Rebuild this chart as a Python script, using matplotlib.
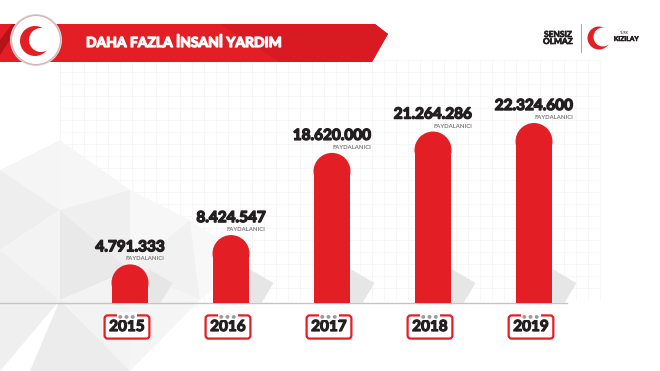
import matplotlib
matplotlib.use("Agg")
import matplotlib.pyplot as plt
import matplotlib.patheffects as pe
import numpy as np
from matplotlib.patches import Polygon, Circle, Ellipse

years = ["2015", "2016", "2017", "2018", "2019"]
values = [4791333, 8424547, 18620000, 21264286, 22324600]
labels = ["4.791.333", "8.424.547", "18.620.000", "21.264.286", "22.324.600"]
unit_label = "FAYDALANICI"
title = "DAHA FAZLA İNSANİ YARDIM"

RED = "#e31e24"
DARK = "#231f20"
FONT = ["Lato", "DejaVu Sans"]

W, H = 660, 371
fig = plt.figure(figsize=(6.6, 3.71), dpi=100)


def heavy(c, w=0.7):
    return [pe.withStroke(linewidth=w, foreground=c)]


# background axes in pixel coords (y down)
bg = fig.add_axes([0, 0, 1, 1])
bg.set_xlim(0, W)
bg.set_ylim(H, 0)
bg.axis("off")

# faint grid
for gx in np.arange(60, 610, 12):
    bg.plot([gx, gx], [60, 300], color="#f4f4f4", lw=0.5, zorder=0)
for gy in np.arange(60, 300, 12):
    bg.plot([60, 600], [gy, gy], color="#f4f4f4", lw=0.5, zorder=0)

# light geometric triangles lower left
tris = [
    ([(0, 170), (60, 140), (60, 210)], "#f5f5f5"),
    ([(0, 170), (60, 210), (0, 250)], "#eeeeee"),
    ([(60, 140), (130, 190), (60, 210)], "#f6f6f6"),
    ([(60, 210), (130, 190), (130, 270)], "#efefef"),
    ([(0, 250), (60, 210), (60, 300)], "#f3f3f3"),
    ([(60, 210), (130, 270), (60, 300)], "#e9e9e9"),
    ([(0, 250), (60, 300), (0, 371)], "#efefef"),
    ([(60, 300), (130, 270), (130, 371)], "#f3f3f3"),
    ([(60, 300), (130, 371), (30, 371)], "#ececec"),
    ([(130, 190), (190, 220), (130, 270)], "#f7f7f7"),
    ([(130, 270), (190, 220), (200, 300)], "#f1f1f1"),
    ([(130, 270), (200, 300), (130, 371)], "#f5f5f5"),
    ([(190, 220), (250, 260), (200, 300)], "#f8f8f8"),
]
for pts, c in tris:
    bg.add_patch(Polygon(pts, closed=True, fc=c, ec="none", zorder=0.5))

# baseline
bg.plot([0, 567], [303, 303], color="#c4c4c4", lw=1, zorder=1)

# title banner
bg.add_patch(Polygon([(0, 24), (375, 24), (388, 34), (372, 62), (0, 62)],
                     closed=True, fc=RED, ec="none", zorder=2))
bg.add_patch(Polygon([(220, 24), (375, 24), (388, 34), (372, 62), (280, 62)],
                     closed=True, fc="#d81b22", ec="none", zorder=2.1))
bg.add_patch(Polygon([(0, 40), (12, 24), (20, 24), (0, 55)],
                     closed=True, fc="#b5121a", ec="none", zorder=2.1))
bg.text(86, 43, title, color="white", fontsize=10, fontweight="bold",
        family=FONT, va="center", ha="left", zorder=3,
        path_effects=heavy("white", 0.9))

# round logo
bg.add_patch(Circle((36, 40), 26, fc="#d8d8d8", ec="none", zorder=3))
bg.add_patch(Circle((36, 40), 24.5, fc="white", ec="#d9b0b0", lw=0.8, zorder=3.1))
bg.add_patch(Circle((35, 41), 15, fc=RED, ec="none", zorder=3.2))
bg.add_patch(Circle((41, 40), 12, fc="white", ec="none", zorder=3.3))

# top right logo
bg.text(558, 38, "SENSIZ\nOLMAZ", fontsize=6, fontweight="bold", color=DARK,
        family=FONT, ha="center", va="center", linespacing=1.0, zorder=3,
        path_effects=heavy(DARK, 0.5))
bg.plot([581, 581], [24, 52], color="#999999", lw=0.6, zorder=3)
bg.add_patch(Circle((599, 38), 11.5, fc=RED, ec="none", zorder=3))
bg.add_patch(Circle((603, 37), 9.5, fc="white", ec="none", zorder=3.1))
bg.text(624, 33.5, "TÜRK", fontsize=2.5, color=DARK, ha="center", va="center",
        family=FONT, zorder=3)
bg.text(626, 38.5, "KIZILAY", fontsize=4.8, fontweight="bold", color=DARK,
        family=FONT, ha="center", va="center", zorder=3,
        path_effects=heavy(DARK, 0.4))

# bar axes: baseline at pixel 303, 8.063 px per million
base_px = 303
px_per_unit = 180 / 22324600
ax_h_px = 260
ax = fig.add_axes([79.5 / W, (H - base_px) / H, 505 / W, ax_h_px / H])
ax.patch.set_alpha(0)
ax.axis("off")
ax.set_xlim(-0.5, 4.5)
ax.set_ylim(0, ax_h_px / px_per_unit)

x = np.arange(len(years))
vals = np.array(values, dtype=float)
bar_w = 0.366
r_px = 18.5
r_y = r_px / px_per_unit

ax.bar(x, vals - r_y, width=bar_w, color=RED, zorder=3)
for xi, v in zip(x, vals):
    ax.add_patch(Ellipse((xi, v - r_y), bar_w, 2 * r_y, fc=RED, ec="none", zorder=3))

# bar shadows
for xi in x:
    d = ax.transData.transform((xi + bar_w / 2, 0))
    px, py = bg.transData.inverted().transform(d)
    bg.add_patch(Polygon([(px, py), (px + 12, py), (px + 24, py - 20), (px, py - 34)],
                         closed=True, fc="#e6e6e6", ec="none", zorder=1.5))

# value labels
num_texts = []
for xi, v, lab in zip(x, vals, labels):
    t = ax.annotate(lab, xy=(xi, v), xytext=(0, 17), textcoords="offset pixels",
                    ha="center", va="center", fontsize=11, fontweight="bold",
                    color=DARK, family=FONT, zorder=4,
                    path_effects=heavy(DARK, 1.0))
    num_texts.append(t)

fig.canvas.draw()
renderer = fig.canvas.get_renderer()
for t in num_texts:
    bb = t.get_window_extent(renderer)
    fig.text(bb.x1 / W, (bb.y0 - 2) / H, unit_label, fontsize=4.2, fontweight="bold",
             color="#7a7a7a", family=FONT, ha="right", va="top")

# year boxes
for xi, yr in zip(x, years):
    ax.annotate(yr, xy=(xi, 0), xytext=(-3, -24), textcoords="offset pixels",
                ha="center", va="center", fontsize=11, fontweight="bold", color=DARK,
                family=FONT, annotation_clip=False,
                path_effects=heavy(DARK, 0.9),
                bbox=dict(boxstyle="round,pad=0.3,rounding_size=0.2", fc="white",
                          ec=RED, lw=1.6))
    ax.annotate("● ● ●", xy=(xi, 0), xytext=(-3, -13), textcoords="offset pixels",
                ha="center", va="center", fontsize=3.8, color="#9a9a9a",
                family=["DejaVu Sans"], annotation_clip=False,
                bbox=dict(boxstyle="square,pad=0.3", fc="white", ec="none"))

fig.savefig("out.png", dpi=100)
